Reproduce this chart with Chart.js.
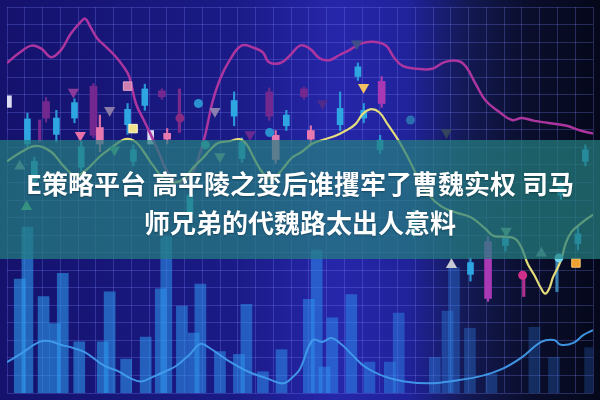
<!DOCTYPE html>
<html><head><meta charset="utf-8">
<script src="https://cdn.jsdelivr.net/npm/chart.js@4.4.1/dist/chart.umd.min.js"></script>
<style>
html,body{margin:0;padding:0;background:#0a0a30;}
#wrap{position:relative;width:600px;height:400px;overflow:hidden;}
canvas{display:block;}
#band{position:absolute;left:0;top:140px;width:600px;height:119px;background:rgba(38,128,128,0.72);}
#title{position:absolute;left:0;top:163px;width:600px;text-align:center;color:#fff;font-family:"Noto Sans CJK SC","Noto Sans",sans-serif;font-weight:700;font-size:26px;line-height:39px;white-space:nowrap;text-shadow:0 1px 2px rgba(0,0,0,0.3);}
</style></head>
<body>
<div id="wrap">
<canvas id="c" width="600" height="400"></canvas>
<div id="band"></div>
<div id="title"><div>E策略平台 高平陵之变后谁攫牢了曹魏实权 司马</div><div>师兄弟的代魏路太出人意料</div></div>
</div>
<script>
// ---------- data (session index on x, price level on y) ----------
const volX = [0.02,0.45,1.36,1.99,2.44,3.37,4.69,5.08,6.01,7.11,7.96,8.27,9.15,9.81,10.19,11.29,12.36,12.78,13.71,14.76,16.30,16.74,17.18,17.62,18.69,19.71,20.86,21.36,23.39,24.11,24.47,25.37,26.58,29.00,30.10,32.14];
const volY = [6.15,9.12,5.16,3.62,6.48,2.57,2.57,5.43,1.59,2.85,5.60,8.57,4.61,3.07,5.87,2.02,1.86,4.72,0.87,2.13,5.00,7.80,1.14,3.95,5.27,1.42,1.42,4.22,1.69,4.33,6.81,3.35,0.76,3.40,1.69,2.24];

const pinkX = [-0.7,-0.04,0.68,1.23,1.78,2.33,2.88,3.43,3.70,3.98,4.36,4.80,5.35,5.79,6.18,6.56,7.00,7.39,7.83,8.38,9.09,9.75,10.19,10.47,10.85,11.29,11.84,12.50,13.16,13.71,14.04,14.70,15.25,15.80,16.35,16.90,17.45,18.00,18.55,19.21,19.93,20.64,21.08,21.58,22.40,23.23,23.94,24.71,25.15,25.70,26.25,26.97,27.74,28.29,29.00,29.72,30.82,31.59,32.30];
const pinkY = [18.47,19.02,19.46,19.29,18.80,19.19,20.12,20.78,21.00,20.56,19.90,19.46,18.91,18.36,17.70,16.16,15.22,14.40,13.41,12.20,11.65,12.20,13.41,14.40,16.16,17.53,18.63,19.46,19.35,19.07,18.52,18.47,18.91,19.46,19.29,18.74,18.63,18.91,19.19,19.57,19.68,19.46,18.80,18.30,18.14,18.14,18.52,18.58,18.25,17.26,16.33,15.72,15.22,15.33,15.17,15.06,14.89,14.62,14.45];

const yelX = [-0.7,0.13,0.95,1.78,2.49,3.15,3.81,4.53,5.24,5.79,6.23,6.62,7.00,7.55,8.27,9.09,9.86,10.30,10.74,11.18,11.84,12.39,12.78,13.22,13.71,14.26,14.81,15.36,15.91,16.46,17.01,17.73,18.39,18.94,19.32,19.76,20.26,20.75,21.30,21.85,22.40,23.06,23.78,24.60,25.43,26.25,26.69,27.24,27.90,28.29,28.62,29.00,29.39,29.61,29.83,30.05,30.32,30.54,30.76,31.09,31.64,32.30];
const yelY = [12.86,13.41,13.74,13.41,12.59,12.04,12.42,13.14,13.69,14.07,14.13,13.91,13.41,12.59,11.76,11.76,12.59,13.02,13.52,13.91,14.02,14.13,13.85,13.02,12.20,11.87,12.42,13.08,13.41,13.85,14.07,14.29,14.62,15.00,15.55,15.83,15.66,14.95,14.13,13.14,12.04,10.94,10.28,9.94,9.67,9.01,8.62,8.57,8.46,7.91,7.03,6.37,5.60,5.32,5.60,6.26,6.81,7.36,8.18,8.84,9.34,9.83];

const blueX = [-0.7,0.02,1.12,1.67,2.33,2.99,3.70,4.80,5.52,6.29,6.84,7.55,8.27,8.82,9.59,10.19,10.69,11.79,12.89,13.98,14.86,15.41,15.80,16.51,17.06,17.56,18.16,18.71,19.48,20.58,21.68,23.11,24.60,26.09,27.19,28.29,29.39,30.10,30.49,31.20,31.75,32.30];
const blueY = [1.42,1.86,2.57,2.63,2.41,2.24,1.97,1.20,0.92,0.48,0.32,0.59,0.92,1.20,1.86,2.46,2.24,1.48,0.87,0.48,0.21,0.59,1.03,2.68,2.57,2.79,2.41,1.86,1.14,0.59,0.32,0.21,0.37,0.65,1.03,1.69,2.57,2.68,2.41,2.52,2.96,3.24];

// candles: x, open/close (body low/high), low/high (wick)
const cyanX    = [0.45,3.10,2.08,6.09,7.06,12.09,15.03,18.06,19.06,19.39,25.40,27.37,31.45,20.31,0.84,3.48,6.42,12.53,22.20,9.60,30.49,31.87];
const cyanLo   = [13.85,15.33,14.40,14.95,16.05,15.44,14.89,14.95,17.70,15.33,6.42,8.07,8.18,13.52,11.76,12.53,12.86,13.02,8.73,9.83,10.94,12.86];
const cyanHi   = [15.28,16.21,15.33,15.83,16.99,16.33,15.50,15.88,18.25,15.77,7.09,8.51,8.73,14.07,12.86,13.69,13.52,13.96,9.83,10.94,11.48,13.52];
const cyanLow  = [13.68,15.06,13.96,14.40,15.77,14.89,14.62,14.62,17.48,15.06,6.04,7.75,7.80,13.30,11.50,12.30,12.60,12.80,8.50,9.60,10.70,12.60];
const cyanHigh = [15.61,16.43,15.77,16.16,17.26,16.82,15.77,16.82,18.47,16.16,7.36,8.90,9.12,14.35,13.10,14.00,13.80,14.20,10.10,11.20,11.70,13.80];

const pinkCX   = [4.53,8.32,14.43,16.41];
const pinkCLo  = [13.85,14.13,12.97,14.13];
const pinkCHi  = [14.79,14.46,14.35,14.62];
const pinkCLow = [13.41,13.85,12.75,13.85];
const pinkCHigh= [15.50,14.73,14.62,14.89];

const magX    = [20.40,26.39];
const magLo   = [16.16,5.05];
const magHi   = [17.42,8.29];
const magLow  = [15.94,4.88];
const magHigh = [17.70,8.57];

const purX    = [4.17,1.50,8.02,14.07,16.02];
const purLo   = [14.35,15.33,16.55,15.44,16.55];
const purHi   = [17.15,16.27,16.88,16.82,16.99];
const purLow  = [14.20,15.10,16.40,15.20,16.40];
const purHigh = [17.30,16.50,17.00,17.05,17.10];

const whiteX  = [7.39,-0.62];
const whiteLo = [13.85,15.94];
const whiteHi = [14.62,16.60];

// lone wicks
const spikeX   = [1.14,9.01,28.40,30.27];
const spikeLow = [13.96,14.51,5.16,5.44];
const spikeHigh= [15.22,16.99,6.37,7.36];

// markers
const triDownX = [3.04,5.08,3.43,11.01,12.99,18.99,19.38,17.07,24.05,5.35,11.29,27.41];
const triDownY = [16.82,15.77,14.35,15.72,14.40,19.57,17.09,16.16,14.51,13.52,13.14,8.90];
const triUpX = [24.33,0.02,0.40,29.39];
const triUpY = [6.97,12.59,10.28,7.63];
const dotX = [9.04,10.08,14.09,22.02,28.34,30.38,10.47];
const dotY = [15.33,16.16,14.51,15.22,6.37,7.36,13.80];
const sqX = [6.40,31.34,6.09];
const sqY = [14.73,7.07,17.15];

// ---------- build ----------
const pts = (xs, ys) => xs.map((x, i) => ({x, y: ys[i]}));
const rng = (xs, lo, hi) => xs.map((x, i) => ({x, y: [lo[i], hi[i]]}));

const X_MIN = -0.7, X_MAX = 32.3, Y_MIN = -0.34, Y_MAX = 21.66;

function barGrad(ctx) {
  const chart = ctx.chart;
  if (!chart.chartArea) return 'rgba(45,150,235,0.55)';
  const g = chart.ctx.createLinearGradient(0, 0, chart.width, 0);
  g.addColorStop(0, 'rgba(45,160,240,0.58)');
  g.addColorStop(0.6, 'rgba(45,145,240,0.5)');
  g.addColorStop(0.8, 'rgba(45,120,220,0.36)');
  g.addColorStop(1, 'rgba(40,100,200,0.28)');
  return g;
}

const bgPlugin = {
  id: 'bg',
  beforeDraw(chart) {
    const {ctx, width, height} = chart;
    ctx.save();
    const g = ctx.createLinearGradient(0, 0, width, 0);
    g.addColorStop(0, '#14126c');
    g.addColorStop(0.4, '#1b1b88');
    g.addColorStop(0.56, '#2626aa');
    g.addColorStop(0.68, '#20229a');
    g.addColorStop(0.78, '#131952');
    g.addColorStop(0.88, '#0a0e2c');
    g.addColorStop(1, '#05081a');
    ctx.fillStyle = g;
    ctx.fillRect(0, 0, width, height);
    ctx.restore();
  }
};

const bodyOpts = {type: 'bar', grouped: false, barThickness: 6, borderWidth: 0};
const wickOpts = {type: 'bar', grouped: false, barThickness: 1.5, borderWidth: 0};

const datasets = [
  {type: 'bar', data: pts(volX, volY), backgroundColor: barGrad, barThickness: 11, grouped: false, base: Y_MIN - 1, order: 30},
  {type: 'line', data: pts(blueX, blueY), borderColor: 'rgba(65,155,235,0.95)', borderWidth: 2, pointRadius: 0, tension: 0.4, order: 29},

  Object.assign({}, wickOpts, {data: rng(purX, purLow, purHigh), backgroundColor: '#6a2a8c', order: 21}),
  Object.assign({}, bodyOpts, {data: rng(purX, purLo, purHi), backgroundColor: '#72288e', barThickness: 7, order: 20}),
  Object.assign({}, wickOpts, {data: rng(spikeX, spikeLow, spikeHigh), backgroundColor: ['#7a2a90','#7a2a8a','#b03090','#3a80b0'], barThickness: 2.5, order: 20}),
  Object.assign({}, wickOpts, {data: rng(cyanX, cyanLow, cyanHigh), backgroundColor: '#2a98d8', order: 19}),
  Object.assign({}, bodyOpts, {data: rng(cyanX, cyanLo, cyanHi), backgroundColor: '#2ea6e2', order: 18}),
  Object.assign({}, wickOpts, {data: rng(pinkCX, pinkCLow, pinkCHigh), backgroundColor: '#e070a8', order: 17}),
  Object.assign({}, bodyOpts, {data: rng(pinkCX, pinkCLo, pinkCHi), backgroundColor: '#e878b0', barThickness: 7, order: 16}),
  Object.assign({}, wickOpts, {data: rng(magX, magLow, magHigh), backgroundColor: '#a83cb0', order: 15}),
  Object.assign({}, bodyOpts, {data: rng(magX, magLo, magHi), backgroundColor: '#a838b4', barThickness: 7, order: 14}),
  Object.assign({}, bodyOpts, {data: rng(whiteX, whiteLo, whiteHi), backgroundColor: '#dcdcf4', order: 13}),

  {type: 'line', data: pts(pinkX, pinkY), borderColor: '#ad359f', borderWidth: 2.5, pointRadius: 0, tension: 0.4, order: 6},
  {type: 'line', data: pts(yelX, yelY), borderColor: '#e4dc7c', borderWidth: 2.2, pointRadius: 0, tension: 0.4, order: 5},

  {type: 'scatter', data: pts(triDownX, triDownY), pointStyle: 'triangle', pointRotation: 180, pointRadius: 6.5, pointBorderWidth: 0,
   pointBackgroundColor: ['#8a3a9a','#8a7aa8','#e870a8','#8a80b0','#6a2a90','#3e4e88','#f2c262','#4e2a8a','#34445e','#5ab088','#7a9a90','#70a080'], order: 3},
  {type: 'scatter', data: pts(triUpX, triUpY), pointStyle: 'triangle', pointRadius: 6.5, pointBorderWidth: 0,
   pointBackgroundColor: ['#c8c8d2','#7a90a8','#60c080','#6a8a90'], order: 3},
  {type: 'scatter', data: pts(dotX, dotY), pointStyle: 'circle', pointRadius: 4.5, pointBorderWidth: 0,
   pointBackgroundColor: ['#8a2a80','#2a90d0','#2a90d0','#2a6eb0','#d0308a','#70d8f0','#3ab0c0'], order: 2},
  {type: 'scatter', data: pts(sqX, sqY), pointStyle: 'rect', pointRadius: 6, pointBorderWidth: 1,
   pointBackgroundColor: ['#f2e28c','#f0a030','#d080b0'], pointBorderColor: ['#fff8d0','#f8c070','#e0a0c8'], order: 2}
];

const gridStyle = {color: 'rgba(125,135,255,0.27)', lineWidth: 1, drawTicks: false, offset: false};

new Chart(document.getElementById('c'), {
  type: 'bar',
  data: {datasets},
  options: {
    responsive: false,
    animation: false,
    devicePixelRatio: 1,
    layout: {padding: 0},
    plugins: {legend: {display: false}, tooltip: {enabled: false}, title: {display: false}},
    scales: {
      x: {type: 'linear', min: X_MIN, max: X_MAX, offset: false, grid: gridStyle, border: {display: false}, ticks: {display: false, stepSize: 1}},
      y: {type: 'linear', min: Y_MIN, max: Y_MAX, grid: gridStyle, border: {display: false}, ticks: {display: false, stepSize: 1}}
    }
  },
  plugins: [bgPlugin]
});
</script>
</body></html>
